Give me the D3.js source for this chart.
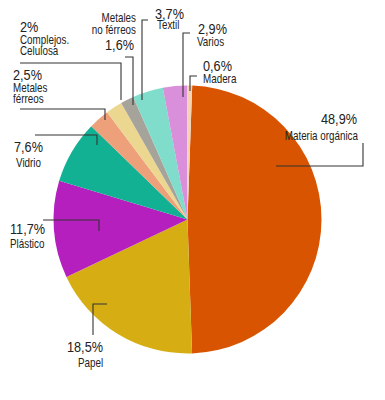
<!DOCTYPE html>
<html>
<head>
<meta charset="utf-8">
<script src="https://cdn.jsdelivr.net/npm/d3@7"></script>
<style>
  body { margin: 0; background: #fff; }
  text { font-family: "Liberation Sans", Arial, sans-serif; fill: #222; }
  .pct { font-size: 15.5px; }
  .lbl { font-size: 12px; }
  .leader { fill: none; stroke: #333; stroke-width: 1.1; }
</style>
</head>
<body>
<svg id="chart" width="385" height="400"></svg>
<script>
'use strict';

// data, clockwise from 12 o'clock
const categories = ['Materia orgánica', 'Papel', 'Plástico', 'Vidrio', 'Metales férreos',
  'Complejos. Celulosa', 'Metales no férreos', 'Textil', 'Varios', 'Madera'];
const values = [48.9, 18.5, 11.7, 7.6, 2.5, 2, 1.6, 3.7, 2.9, 0.6];
const valueLabels = ['48,9%', '18,5%', '11,7%', '7,6%', '2,5%', '2%', '1,6%', '3,7%', '2,9%', '0,6%'];
const colors = ['#d95400', '#d6ae14', '#b41fbe', '#12b193', '#eea07a',
  '#ecd790', '#a6a39a', '#80dccb', '#d98fd9', '#f4d2b4'];

// label layout: text lines [x, y, text, class, anchor] and leader path
const labelLayout = {
  'Materia orgánica': { lines: [[357, 124, 0, 'pct', 'end'], [358, 140, 'Materia orgánica', 'lbl', 'end']], leader: 'M363,143V166H276' },
  'Papel': { lines: [[67, 352, 0, 'pct', 'start'], [78, 367, 'Papel', 'lbl', 'start']], leader: 'M107,304H93V335' },
  'Plástico': { lines: [[10, 234, 0, 'pct', 'start'], [10, 248, 'Plástico', 'lbl', 'start']], leader: 'M43,220H99V231' },
  'Vidrio': { lines: [[14, 152, 0, 'pct', 'start'], [16, 167, 'Vidrio', 'lbl', 'start']], leader: 'M35,135H97V145' },
  'Metales férreos': { lines: [[13, 80, 0, 'pct', 'start'], [13, 92, 'Metales', 'lbl', 'start'], [13, 103, 'férreos', 'lbl', 'start']], leader: 'M20,109H105V120' },
  'Complejos. Celulosa': { lines: [[20, 32, 0, 'pct', 'start'], [20, 44, 'Complejos.', 'lbl', 'start'], [20, 55, 'Celulosa', 'lbl', 'start']], leader: 'M20,63H121V100' },
  'Metales no férreos': { lines: [[136, 22, 'Metales', 'lbl', 'end'], [136, 34, 'no férreos', 'lbl', 'end'], [134, 50, 0, 'pct', 'end']], leader: 'M125,57H133V105' },
  'Textil': { lines: [[155, 19, 0, 'pct', 'start'], [157, 29, 'Textil', 'lbl', 'start']], leader: 'M148,20H142V100' },
  'Varios': { lines: [[198, 34, 0, 'pct', 'start'], [197, 46, 'Varios', 'lbl', 'start']], leader: 'M190,33H183V97' },
  'Madera': { lines: [[203, 71, 0, 'pct', 'start'], [203, 83, 'Madera', 'lbl', 'start']], leader: 'M197,76H190V91' }
};

const svg = d3.select('#chart');
const cx = 187.5, cy = 219.5, radius = 134;
const narrow = 0.82; // condensed look

const offset = 0.035;
const pie = d3.pie().sort(null).value(d => d.value)
  .startAngle(offset).endAngle(2 * Math.PI + offset);
const arc = d3.arc().innerRadius(0).outerRadius(radius);

const data = categories.map((c, i) => ({ name: c, value: values[i], label: valueLabels[i], color: colors[i] }));

const g = svg.append('g').attr('transform', `translate(${cx},${cy})`);
g.selectAll('path.slice')
  .data(pie(data))
  .enter().append('path')
    .attr('class', 'slice')
    .attr('d', arc)
    .attr('fill', d => d.data.color);

// leaders + labels
const labels = svg.append('g');
data.forEach(d => {
  const lay = labelLayout[d.name];
  labels.append('path').attr('class', 'leader').attr('d', lay.leader);
  lay.lines.forEach(l => {
    labels.append('text')
      .attr('class', l[3])
      .attr('transform', `translate(${l[0]},${l[1]}) scale(${narrow},1)`)
      .attr('text-anchor', l[4])
      .text(l[2] === 0 ? d.label : l[2]);
  });
});
</script>
</body>
</html>
